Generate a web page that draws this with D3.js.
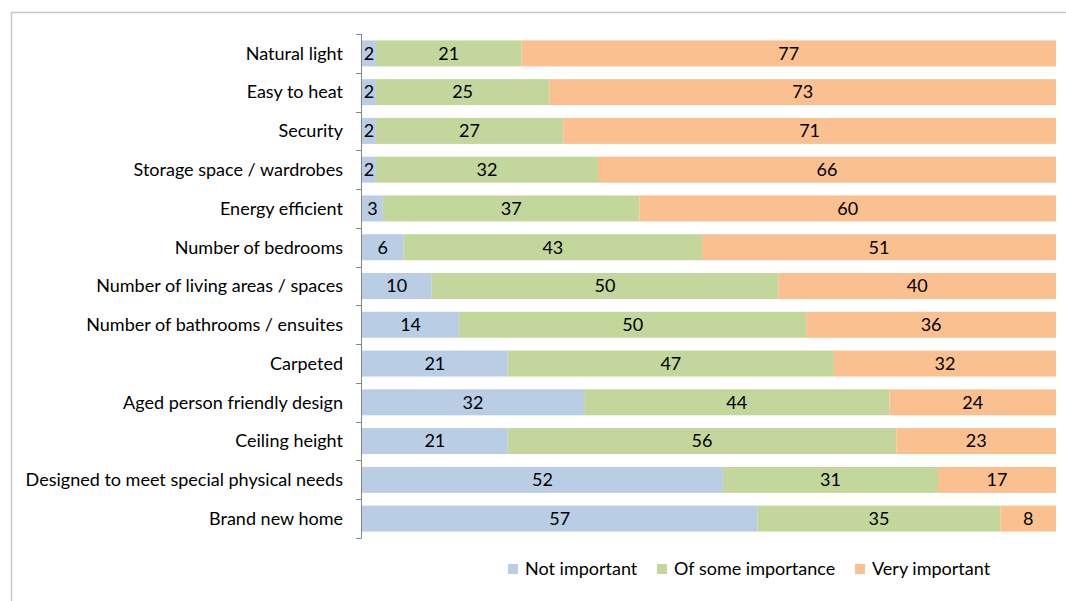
<!DOCTYPE html>
<html><head><meta charset="utf-8">
<script src="https://cdn.jsdelivr.net/npm/d3@7"></script>
<style>body{margin:0;background:#fff;font-family:Lato,"Open Sans",sans-serif;}</style>
</head><body>
<svg id="c" width="1066" height="601"></svg>
<script>
const categories = ["Natural light","Easy to heat","Security","Storage space / wardrobes","Energy efficient","Number of bedrooms","Number of living areas / spaces","Number of bathrooms / ensuites","Carpeted","Aged person friendly design","Ceiling height","Designed to meet special physical needs","Brand new home"];
const notImportant = [2,2,2,2,3,6,10,14,21,32,21,52,57];
const someImportance = [21,25,27,32,37,43,50,50,47,44,56,31,35];
const veryImportant = [77,73,71,66,60,51,40,36,32,24,23,17,8];
const seriesNames = ["Not important","Of some importance","Very important"];
const colors = ["#b9cde5","#c3d69b","#fac090"];

(function(){
const svg = d3.select("#c");
const FS = 18;
svg.append("rect").attr("x",11.5).attr("y",12.5).attr("width",1070).attr("height",600)
  .attr("fill","none").attr("stroke","#c8c8c8").attr("stroke-width",1.5);

const L = 362, R = 1056, T = 34, B = 538;
const x = d3.scaleLinear().domain([0,100]).range([L,R]);
const y = d3.scaleBand().domain(categories).range([T,B]).paddingInner(0.33).paddingOuter(0.165);

const rows = categories.map((c,i)=>({cat:c, v:[notImportant[i],someImportance[i],veryImportant[i]]}));
const stack = d3.stack().keys([0,1,2]).value((d,k)=>d.v[k]);
const layers = stack(rows);

layers.forEach((layer,k)=>{
  const g = svg.append("g");
  g.selectAll("rect").data(layer).join("rect")
    .attr("x",d=>x(d[0])).attr("width",d=>x(d[1])-x(d[0]))
    .attr("y",d=>y(d.data.cat)).attr("height",y.bandwidth())
    .attr("fill",colors[k]);
  g.selectAll("text").data(layer).join("text")
    .attr("x",d=>(x(d[0])+x(d[1]))/2).attr("y",d=>y(d.data.cat)+y.bandwidth()/2)
    .attr("dy","0.35em").attr("text-anchor","middle")
    .attr("font-size",FS).attr("fill","#000")
    .text(d=>d.data.v[k]);
});

const axisG = svg.append("g");
axisG.append("line").attr("x1",361.5).attr("x2",361.5).attr("y1",T).attr("y2",B).attr("stroke","#868686");
const bounds = d3.range(categories.length+1).map(i=>T + i*(B-T)/categories.length);
axisG.selectAll(".tk").data(bounds).join("line").attr("class","tk")
  .attr("x1",356).attr("x2",361.5).attr("y1",d=>Math.round(d)+0.5).attr("y2",d=>Math.round(d)+0.5).attr("stroke","#868686");
axisG.selectAll("text").data(categories).join("text")
  .attr("x",343).attr("y",d=>y(d)+y.bandwidth()/2).attr("dy","0.35em")
  .attr("text-anchor","end").attr("font-size",FS).attr("fill","#000").text(d=>d);

const legX = [508,657,855];
const leg = svg.append("g");
seriesNames.forEach((n,k)=>{
  leg.append("rect").attr("x",legX[k]).attr("y",564).attr("width",10).attr("height",10).attr("fill",colors[k]);
  leg.append("text").attr("x",legX[k]+17).attr("y",569).attr("dy","0.35em").attr("font-size",FS).attr("fill","#000").text(n);
});
})();
</script>
</body></html>
